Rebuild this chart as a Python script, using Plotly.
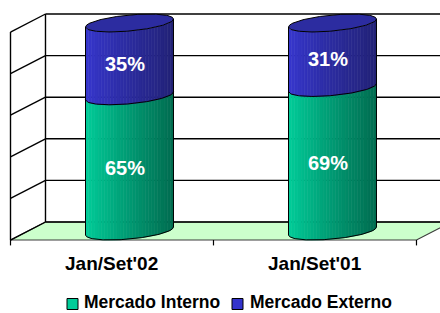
import numpy as np
import plotly.graph_objects as go

# ---------------- data ----------------
categories = ["Jan/Set'02", "Jan/Set'01"]
series_names = ["Mercado Interno", "Mercado Externo"]
mercado_interno = [65, 69]
mercado_externo = [35, 31]
grid_values = [0, 20, 40, 60, 80, 100]

# ---------------- style / geometry ----------------
W, H = 440, 313
X_RANGE = [-0.6379, 1.5296]
Y_RANGE = [-39.42, 111.06]
DX = 0.0862   # 3D depth offset in category units
DY = 4.33     # 3D depth offset in percent units
R = 0.2167    # cylinder radius (category units)
EB = 3.85     # ellipse half height (percent units)
ET = 1.92     # ellipse tilt (percent units)
NSTRIP = 28
FONT = "Liberation Sans, Arial, sans-serif"

GREEN_L, GREEN_R = (0, 206, 154), (0, 108, 80)
BLUE_L, BLUE_R = (54, 54, 206), (34, 34, 118)
CAP_COLOR = "rgb(44,44,160)"
SERIES_COLORS = ["rgb(0,204,153)", "rgb(51,51,204)"]


def mix(c0, c1, f):
    return "rgb(%d,%d,%d)" % tuple(round(a + (b - a) * f) for a, b in zip(c0, c1))


def front_arc(level, u):
    return level + ET * u - EB * np.sqrt(np.clip(1 - u ** 2, 0, None))


def back_arc(level, u):
    return level + ET * u + EB * np.sqrt(np.clip(1 - u ** 2, 0, None))


fig = go.Figure()

# ---------------- 3D box (floor, walls, gridlines) ----------------
xl_f, xl_b = -0.5 - DX, -0.5 + DX
xr_f, xr_b = len(categories) - 0.5 - DX, len(categories) - 0.5 + DX
shapes = []
floor_path = (f"M {xl_f},{-DY} L {xr_f},{-DY} L {xr_b},{DY} L {xl_b},{DY} Z")
shapes.append(dict(type="path", path=floor_path, xref="x", yref="y",
                   fillcolor="rgb(204,255,204)", line=dict(color="rgb(60,60,60)", width=1.2),
                   layer="below"))
line_style = dict(color="black", width=1.4)
for v in grid_values:
    # back wall
    shapes.append(dict(type="line", xref="x", yref="y", x0=xl_b, x1=xr_b,
                       y0=v + DY, y1=v + DY, line=line_style, layer="below"))
    # side wall
    shapes.append(dict(type="line", xref="x", yref="y", x0=xl_f, x1=xl_b,
                       y0=v - DY, y1=v + DY, line=line_style, layer="below"))
shapes.append(dict(type="line", xref="x", yref="y", x0=xl_b, x1=xl_b,
                   y0=DY, y1=grid_values[-1] + DY, line=line_style, layer="below"))
shapes.append(dict(type="line", xref="x", yref="y", x0=xl_f, x1=xl_f,
                   y0=-DY, y1=grid_values[-1] - DY, line=line_style, layer="below"))
# category ticks on the front floor edge
for k in range(len(categories) + 1):
    xt = k - 0.5 - DX
    shapes.append(dict(type="line", xref="x", yref="y", x0=xt, x1=xt,
                       y0=-DY, y1=-DY - 2.6, line=dict(color="black", width=1.2),
                       layer="below"))

# ---------------- cylinders ----------------
annotations = []
for i, cat in enumerate(categories):
    segs = [(0, mercado_interno[i], GREEN_L, GREEN_R),
            (mercado_interno[i], mercado_interno[i] + mercado_externo[i], BLUE_L, BLUE_R)]
    edges = np.linspace(-1, 1, NSTRIP + 1)
    for a, b, cl, cr in segs:
        for s in range(NSTRIP):
            us = np.linspace(edges[s], edges[s + 1], 4)
            xs = i + R * us
            ys_bot = front_arc(a, us)
            ys_top = front_arc(b, us)[::-1]
            px = np.concatenate([xs, xs[::-1], xs[:1]])
            py = np.concatenate([ys_bot, ys_top, ys_bot[:1]])
            f = (s + 0.5) / NSTRIP
            col = mix(cl, cr, f ** 0.9)
            fig.add_trace(go.Scatter(x=px, y=py, mode="lines", fill="toself",
                                     fillcolor=col, line=dict(color=col, width=0.6),
                                     hoverinfo="skip", showlegend=False))
    top = mercado_interno[i] + mercado_externo[i]
    # top cap
    uu = np.linspace(-1, 1, 80)
    cx = np.concatenate([i + R * uu, i + R * uu[::-1]])
    cy = np.concatenate([front_arc(top, uu), back_arc(top, uu[::-1])])
    fig.add_trace(go.Scatter(x=cx, y=cy, mode="lines", fill="toself",
                             fillcolor=CAP_COLOR, line=dict(color="black", width=1),
                             hoverinfo="skip", showlegend=False))
    # outlines
    ox = np.concatenate([[i - R], i + R * uu, [i + R]])
    oy = np.concatenate([[front_arc(top, -1.0)], front_arc(0, uu), [front_arc(top, 1.0)]])
    fig.add_trace(go.Scatter(x=ox, y=oy, mode="lines", line=dict(color="black", width=1),
                             hoverinfo="skip", showlegend=False))
    fig.add_trace(go.Scatter(x=i + R * uu, y=front_arc(mercado_interno[i], uu), mode="lines",
                             line=dict(color="black", width=1),
                             hoverinfo="skip", showlegend=False))
    # data labels
    for a, b in [(0, mercado_interno[i]), (mercado_interno[i], top)]:
        annotations.append(dict(x=i - 0.02, y=(a + b) / 2 - 2, xref="x", yref="y",
                                text=f"{b - a}%", showarrow=False,
                                font=dict(family=FONT, size=20, color="white"),
                                xanchor="center", yanchor="middle"))
    # category label
    annotations.append(dict(x=i - DX, y=-15.4, xref="x", yref="y", text=cat,
                            showarrow=False, font=dict(family=FONT, size=19, color="black"),
                            xanchor="center", yanchor="middle"))

# ---------------- legend (manual, bottom) ----------------
legend_sq = [(67, 78), (232, 243)]
legend_txt_x = [82, 248]
for k, name in enumerate(series_names):
    x0, x1 = legend_sq[k]
    shapes.append(dict(type="rect", xref="paper", yref="paper",
                       x0=x0 / W, x1=x1 / W, y0=1 - 309.5 / H, y1=1 - 298.5 / H,
                       fillcolor=SERIES_COLORS[k], line=dict(color="black", width=1)))
    annotations.append(dict(x=legend_txt_x[k] / W, y=1 - 301.5 / H, xref="paper", yref="paper",
                            text=name, showarrow=False,
                            font=dict(family=FONT, size=17.5, color="black"),
                            xanchor="left", yanchor="middle"))

for ann in annotations:
    ann["font"]["weight"] = "bold"

fig.update_layout(
    width=W, height=H,
    margin=dict(l=0, r=0, t=0, b=0),
    paper_bgcolor="white", plot_bgcolor="white",
    xaxis=dict(range=X_RANGE, visible=False, fixedrange=True),
    yaxis=dict(range=Y_RANGE, visible=False, fixedrange=True),
    shapes=shapes, annotations=annotations, showlegend=False,
)

fig.write_html("out.html", config={"displayModeBar": False},
               post_script="document.body.style.margin='0';document.body.style.overflow='hidden';")
